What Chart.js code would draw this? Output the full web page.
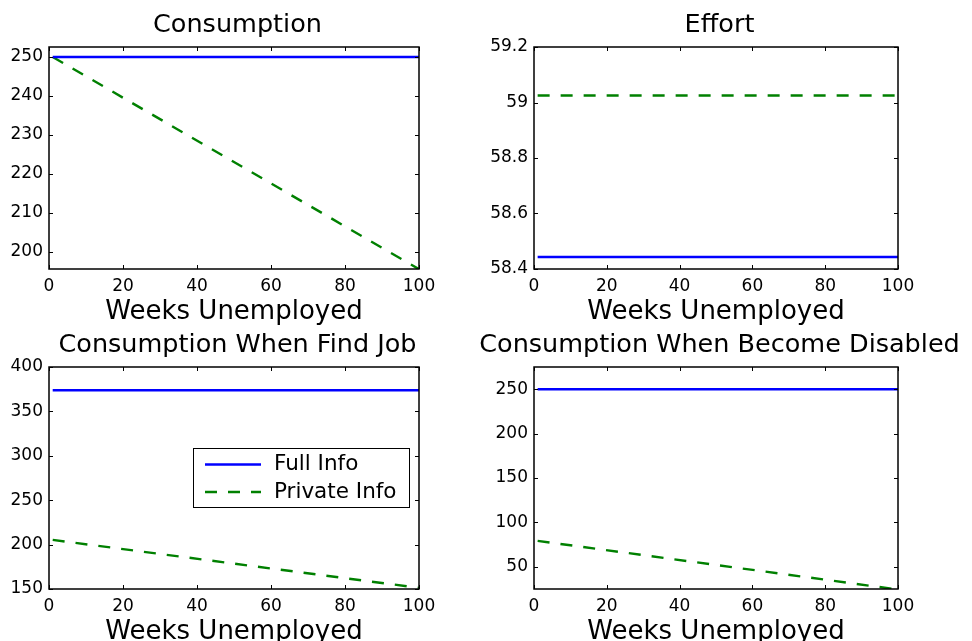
<!DOCTYPE html>
<html>
<head>
<meta charset="utf-8">
<script src="https://cdn.jsdelivr.net/npm/chart.js@4/dist/chart.umd.min.js"></script>
<style>
  body { margin: 0; background: #fff; }
  canvas { position: absolute; left: 0; top: 0; }
</style>
</head>
<body>
<canvas id="c1" width="972" height="641"></canvas>
<canvas id="c2" width="972" height="641"></canvas>
<canvas id="c3" width="972" height="641"></canvas>
<canvas id="c4" width="972" height="641"></canvas>
<script>
// weeks unemployed (x)
const weeks = [1, 100];
const xTicks = [0, 20, 40, 60, 80, 100];

// Consumption
const consFull = [250, 250];
const consPrivate = [250, 195.6];
const consTicks = [200, 210, 220, 230, 240, 250];

// Effort
const effortFull = [58.443, 58.443];
const effortPrivate = [59.025, 59.025];
const effortTicks = [58.4, 58.6, 58.8, 59, 59.2];

// Consumption When Find Job
const jobFull = [373.8, 373.8];
const jobPrivate = [205.3, 151.3];
const jobTicks = [150, 200, 250, 300, 350, 400];

// Consumption When Become Disabled
const disFull = [250, 250];
const disPrivate = [79.2, 24.4];
const disTicks = [50, 100, 150, 200, 250];

const FONT = "DejaVu Sans";
const BLUE = "#0000ff";
const GREEN = "#008000";

// box round the axes with small inward ticks on all four sides
const boxPlugin = {
  id: "box",
  afterDatasetsDraw(chart) {
    const { ctx, chartArea: a } = chart;
    const xs = chart.scales.x;
    const ys = chart.scales.y;
    ctx.save();
    ctx.strokeStyle = "#000";
    ctx.lineWidth = 1;
    ctx.beginPath();
    xs.ticks.forEach((t) => {
      const px = Math.round(xs.getPixelForValue(t.value)) + 0.5;
      ctx.moveTo(px, a.bottom);
      ctx.lineTo(px, a.bottom - 4);
      ctx.moveTo(px, a.top);
      ctx.lineTo(px, a.top + 4);
    });
    ys.ticks.forEach((t) => {
      const py = Math.round(ys.getPixelForValue(t.value)) + 0.5;
      ctx.moveTo(a.left, py);
      ctx.lineTo(a.left + 4, py);
      ctx.moveTo(a.right, py);
      ctx.lineTo(a.right - 4, py);
    });
    ctx.stroke();
    ctx.lineWidth = 1.5;
    ctx.strokeRect(a.left, a.top, a.right - a.left, a.bottom - a.top);
    ctx.restore();
  },
};

// panel title, centred over the axes and allowed to run past them
const panelTitle = {
  id: "panelTitle",
  afterDraw(chart, args, opts) {
    const { ctx, chartArea: a } = chart;
    ctx.save();
    ctx.font = "25.5px '" + FONT + "'";
    ctx.fillStyle = "#000";
    ctx.textAlign = "center";
    ctx.textBaseline = "alphabetic";
    ctx.fillText(opts.text, (a.left + a.right) / 2 + 3.5, a.top - 15);
    ctx.restore();
  },
};

// legend drawn inside the axes (only on the "Find Job" panel)
const insideLegend = {
  id: "insideLegend",
  afterDraw(chart, args, opts) {
    if (!opts.show) return;
    const { ctx, chartArea: a } = chart;
    const w = 216, h = 59;
    const x0 = a.right - 10 - w;
    const y0 = a.top + 81;
    ctx.save();
    ctx.fillStyle = "#fff";
    ctx.fillRect(x0, y0, w, h);
    ctx.strokeStyle = "#000";
    ctx.lineWidth = 1;
    ctx.strokeRect(x0 + 0.5, y0 + 0.5, w, h);
    ctx.font = "21.5px '" + FONT + "'";
    ctx.textBaseline = "middle";
    ctx.fillStyle = "#000";
    chart.data.datasets.forEach((ds, i) => {
      const y = y0 + 16.5 + i * 27.5;
      ctx.strokeStyle = ds.borderColor;
      ctx.lineWidth = ds.borderWidth;
      ctx.setLineDash(ds.borderDash || []);
      ctx.beginPath();
      ctx.moveTo(x0 + 12, y);
      ctx.lineTo(x0 + 68, y);
      ctx.stroke();
      ctx.setLineDash([]);
      ctx.fillText(ds.label, x0 + 81, y);
    });
    ctx.restore();
  },
};

function makeChart(id, opt) {
  const pts = (vals) => weeks.map((w, i) => ({ x: w, y: vals[i] }));
  return new Chart(document.getElementById(id), {
    type: "line",
    data: {
      datasets: [
        {
          label: "Full Info",
          data: pts(opt.full),
          borderColor: BLUE,
          borderWidth: 2.4,
          pointRadius: 0,
        },
        {
          label: "Private Info",
          data: pts(opt.priv),
          borderColor: GREEN,
          borderWidth: 2.4,
          borderDash: [12, 11],
          pointRadius: 0,
        },
      ],
    },
    options: {
      responsive: false,
      animation: false,
      events: [],
      layout: { padding: opt.pad },
      plugins: {
        legend: { display: false },
        tooltip: { enabled: false },
        title: { display: false },
        panelTitle: { text: opt.title },
        insideLegend: { show: !!opt.legend },
      },
      scales: {
        x: {
          type: "linear",
          min: 0,
          max: 100,
          grid: { display: false, drawTicks: false },
          border: { display: false },
          ticks: {
            color: "#000",
            padding: 7,
            autoSkip: false,
            maxRotation: 0,
            font: { family: FONT, size: 17 },
          },
          title: {
            display: true,
            text: "Weeks Unemployed",
            color: "#000",
            padding: { top: 0, bottom: -5 },
            font: { family: FONT, size: 26, lineHeight: 1 },
          },
          afterBuildTicks: (s) => {
            s.ticks = xTicks.map((v) => ({ value: v }));
          },
          afterFit: (s) => {
            s.height = 51;
          },
        },
        y: {
          type: "linear",
          min: opt.min,
          max: opt.max,
          grid: { display: false, drawTicks: false },
          border: { display: false },
          ticks: {
            color: "#000",
            padding: 6,
            autoSkip: false,
            font: { family: FONT, size: 17 },
            callback: (v) => String(+Number(v).toFixed(2)),
          },
          afterBuildTicks: (s) => {
            s.ticks = opt.ticks.map((v) => ({ value: v }));
          },
          afterFit: (s) => {
            s.width = opt.yw;
          },
        },
      },
    },
    plugins: [boxPlugin, panelTitle, insideLegend],
  });
}

makeChart("c1", {
  title: "Consumption",
  full: consFull,
  priv: consPrivate,
  ticks: consTicks,
  min: 195.65,
  max: 252.56,
  yw: 49,
  pad: { left: 0, top: 47, right: 553, bottom: 321 },
});

makeChart("c2", {
  title: "Effort",
  full: effortFull,
  priv: effortPrivate,
  ticks: effortTicks,
  min: 58.4,
  max: 59.2,
  yw: 94,
  pad: { left: 440, top: 47, right: 74, bottom: 321 },
});

makeChart("c3", {
  title: "Consumption When Find Job",
  full: jobFull,
  priv: jobPrivate,
  ticks: jobTicks,
  min: 150,
  max: 400,
  yw: 49,
  legend: true,
  pad: { left: 0, top: 367, right: 553, bottom: 1 },
});

makeChart("c4", {
  title: "Consumption When Become Disabled",
  full: disFull,
  priv: disPrivate,
  ticks: disTicks,
  min: 25,
  max: 275,
  yw: 94,
  pad: { left: 440, top: 367, right: 74, bottom: 1 },
});
</script>
</body>
</html>
